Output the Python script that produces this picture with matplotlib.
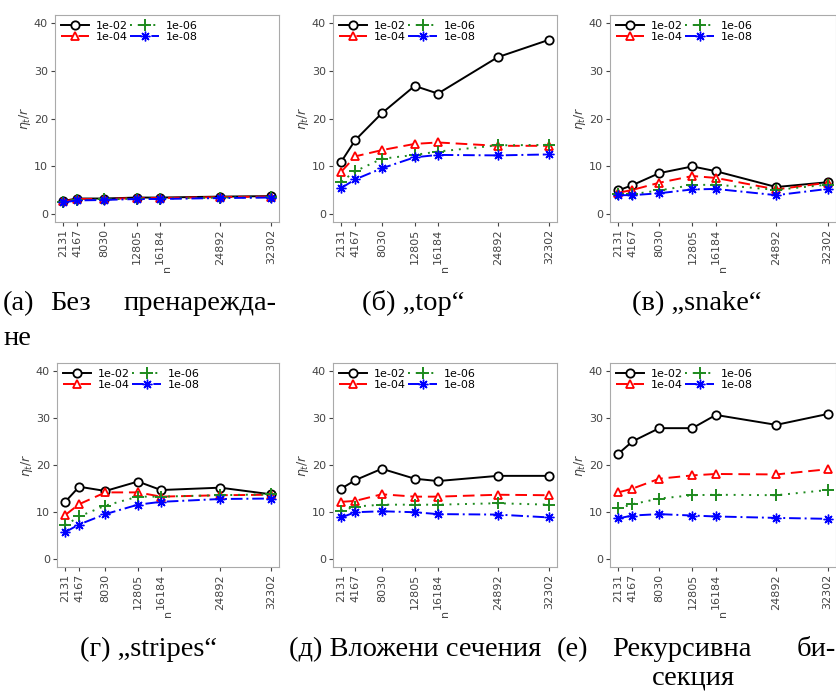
import numpy as np
import matplotlib
matplotlib.use("Agg")
import matplotlib.pyplot as plt

# problem sizes (x axis)
n = [2131, 4167, 8030, 12805, 16184, 24892, 32302]
tols = ["1e-02", "1e-04", "1e-06", "1e-08"]

# one list per tolerance, per panel
none_1e02 = [2.8, 3.3, 3.3, 3.5, 3.5, 3.7, 3.8]
none_1e04 = [2.7, 3.2, 3.2, 3.4, 3.4, 3.6, 3.7]
none_1e06 = [2.6, 3.0, 3.1, 3.3, 3.3, 3.5, 3.6]
none_1e08 = [2.5, 2.9, 3.0, 3.2, 3.2, 3.4, 3.5]

top_1e02 = [11.0, 15.5, 21.1, 26.8, 25.2, 32.8, 36.4]
top_1e04 = [8.9, 12.1, 13.4, 14.7, 15.0, 14.3, 14.3]
top_1e06 = [6.8, 9.0, 11.6, 12.4, 13.1, 14.4, 14.5]
top_1e08 = [5.5, 7.3, 9.6, 11.9, 12.4, 12.3, 12.5]

snake_1e02 = [5.0, 6.1, 8.6, 10.0, 9.0, 5.7, 6.7]
snake_1e04 = [4.5, 5.1, 6.6, 8.0, 7.6, 5.2, 6.6]
snake_1e06 = [4.2, 4.2, 5.0, 6.1, 6.2, 5.1, 6.2]
snake_1e08 = [4.0, 4.0, 4.4, 5.2, 5.3, 4.0, 5.3]

stripes_1e02 = [12.2, 15.4, 14.5, 16.5, 14.7, 15.2, 13.8]
stripes_1e04 = [9.4, 11.7, 14.2, 14.2, 13.3, 13.6, 13.7]
stripes_1e06 = [7.2, 9.1, 11.4, 13.3, 13.3, 13.6, 13.8]
stripes_1e08 = [5.8, 7.4, 9.6, 11.6, 12.2, 12.8, 12.9]

nested_1e02 = [15.0, 16.8, 19.2, 17.1, 16.6, 17.7, 17.7]
nested_1e04 = [12.2, 12.4, 13.8, 13.3, 13.3, 13.7, 13.6]
nested_1e06 = [10.3, 11.2, 11.6, 11.6, 11.6, 11.9, 11.6]
nested_1e08 = [8.9, 10.0, 10.2, 10.0, 9.6, 9.5, 8.9]

bisect_1e02 = [22.4, 25.0, 27.8, 27.8, 30.6, 28.5, 30.8]
bisect_1e04 = [14.2, 15.0, 17.1, 17.8, 18.1, 18.0, 19.1]
bisect_1e06 = [10.8, 11.7, 12.9, 13.6, 13.7, 13.6, 14.7]
bisect_1e08 = [8.7, 9.3, 9.6, 9.3, 9.1, 8.8, 8.6]

panels = [
    [none_1e02, none_1e04, none_1e06, none_1e08],
    [top_1e02, top_1e04, top_1e06, top_1e08],
    [snake_1e02, snake_1e04, snake_1e06, snake_1e08],
    [stripes_1e02, stripes_1e04, stripes_1e06, stripes_1e08],
    [nested_1e02, nested_1e04, nested_1e06, nested_1e08],
    [bisect_1e02, bisect_1e04, bisect_1e06, bisect_1e08],
]

styles = [
    dict(color="black", ls="-", marker="o", mfc="white", ms=6, mew=1.3),
    dict(color="#ff0000", ls=(0, (6, 3)), marker="^", mfc="white", ms=6, mew=1.3),
    dict(color="#1e8a1e", ls=(0, (1, 3)), marker="+", ms=8, mew=1.4),
    dict(color="#0000ff", ls=(0, (6, 2, 1, 2)), marker=(8, 2, 0), ms=7, mew=1.0),
]

W, H = 837, 695
fig = plt.figure(figsize=(W / 100, H / 100), dpi=100)

# axes boxes in pixels: left, top, right, bottom
boxes = [
    (55, 15, 279, 222), (333, 15, 557, 222), (610, 15, 836, 222),
    (57, 363, 279, 567), (333, 363, 557, 567), (610, 363, 836, 567),
]

xpad = (n[-1] - n[0]) * 0.04
for (l, t, r, b), series in zip(boxes, panels):
    ax = fig.add_axes([l / W, 1 - b / H, (r - l) / W, (b - t) / H])
    for vals, st, lab in zip(series, styles, tols):
        ax.plot(n, vals, lw=1.4, label=lab, **st)
    ax.set_xlim(n[0] - xpad, n[-1] + xpad)
    ax.set_ylim(-1.6, 41.6)
    ax.set_yticks([0, 10, 20, 30, 40])
    ax.set_xticks(n)
    ax.set_xticklabels([str(v) for v in n], rotation=90)
    ax.tick_params(labelsize=8, colors="#444444", length=3, pad=2)
    for sp in ax.spines.values():
        sp.set_color("#aaaaaa")
    ax.set_xlabel("n", fontsize=8, color="#444444", rotation=90, labelpad=0)
    ax.set_ylabel(r"$\eta_t/r$", fontsize=9, color="#444444", labelpad=1)
    ax.legend(ncol=2, loc="upper left", frameon=False, fontsize=8,
              handlelength=2.6, columnspacing=0.2, handletextpad=0.6,
              labelspacing=0.1, borderaxespad=0.1)

cap = dict(family="Liberation Serif", fontsize=20.5, color="black", va="baseline")


def put(x, y, s, ha="left"):
    fig.text(x / W, 1 - y / H, s, ha=ha, **cap)


# top captions
put(3, 310, "(а)")
put(50, 310, "Без")
put(276, 310, "пренарежда-", ha="right")
put(3, 345, "не")
put(413, 310, "(б) „top“", ha="center")
put(697, 310, "(в) „snake“", ha="center")

# bottom captions
put(148, 656, "(г) „stripes“", ha="center")
put(289, 656, "(д) Вложени сечения")
put(557, 656, "(е)")
put(612, 656, "Рекурсивна")
put(836, 656, "би-", ha="right")
put(652, 685, "секция")

fig.savefig("out.png", dpi=100)
